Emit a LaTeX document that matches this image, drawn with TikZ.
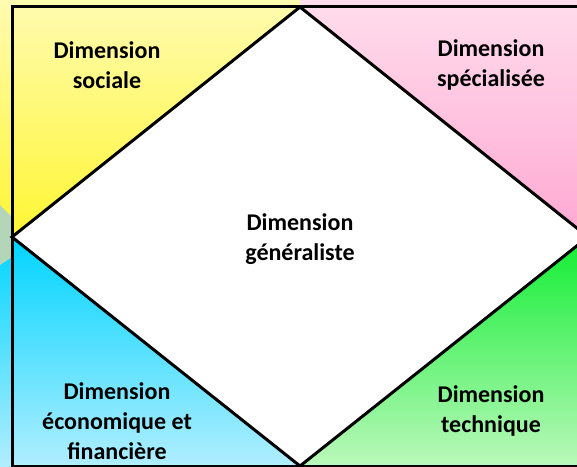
\documentclass[tikz,border=0pt]{standalone}
\usepackage{fontspec}
\setmainfont{Carlito}

\definecolor{jauneH}{HTML}{FFFBB0}
\definecolor{jauneB}{HTML}{FFF633}
\definecolor{roseH}{HTML}{FFDDEC}
\definecolor{roseB}{HTML}{FFA8D2}
\definecolor{cyanH}{HTML}{00D4FF}
\definecolor{cyanB}{HTML}{B0EEFF}
\definecolor{vertH}{HTML}{11EE33}
\definecolor{vertB}{HTML}{BBF8BB}
\definecolor{grisvert}{HTML}{B3D6B8}

\begin{document}
\begin{tikzpicture}[x=1pt, y=-1pt, font=\fontsize{24}{30}\selectfont\bfseries]

        % --- STYLES ---
        \tikzstyle{quadrant} = [draw=none]
        \tikzstyle{cadre} = [draw=black, line width=3pt]
        \tikzstyle{losange} = [draw=black, fill=white, line width=3pt, line join=miter]
        \tikzstyle{dim_label} = [align=center, inner sep=0pt, text=black]

        % --- DEFINITIONS ---
        \def\W{577} % image width
        \def\H{466} % image height
        \def\cx{300} % center x
        \def\cy{237} % center y

        \useasboundingbox (0,0) rectangle (\W,\H);
        \clip (0,0) rectangle (\W,\H);

        % --- COLOURED QUADRANTS ---
        \path[quadrant, top color=jauneH, bottom color=jauneB] (0,0) rectangle (\cx,\cy);
        \path[quadrant, top color=roseH, bottom color=roseB] (\cx,0) rectangle (\W,\cy);
        \path[quadrant, top color=cyanH, bottom color=cyanB] (0,\cy) rectangle (\cx,\H);
        \path[quadrant, top color=vertH, bottom color=vertB] (\cx,\cy) rectangle (\W,\H);
        % small overlap on the left edge
        \fill[grisvert] (0,205) -- (12,217) -- (12,257) -- (0,265) -- cycle;

        % --- FRAME AND DIAMOND ---
        \draw[cadre] (12,6) rectangle (600,466);
        \draw[losange] (\cx,7) -- (588,\cy) -- (\cx,466) -- (12,\cy) -- cycle;

        % --- LABELS ---
        \node[dim_label] (sociale) at (107,65) {Dimension\\sociale};
        \node[dim_label] (specialisee) at (491,65) {Dimension\\spécialisée};
        \node[dim_label] (generaliste) at (\cx,239) {Dimension\\généraliste};
        \node[dim_label] (economique) at (117,421) {Dimension\\économique et\\financière};
        \node[dim_label] (technique) at (491,411) {Dimension\\technique};

    \end{tikzpicture}
\end{document}
